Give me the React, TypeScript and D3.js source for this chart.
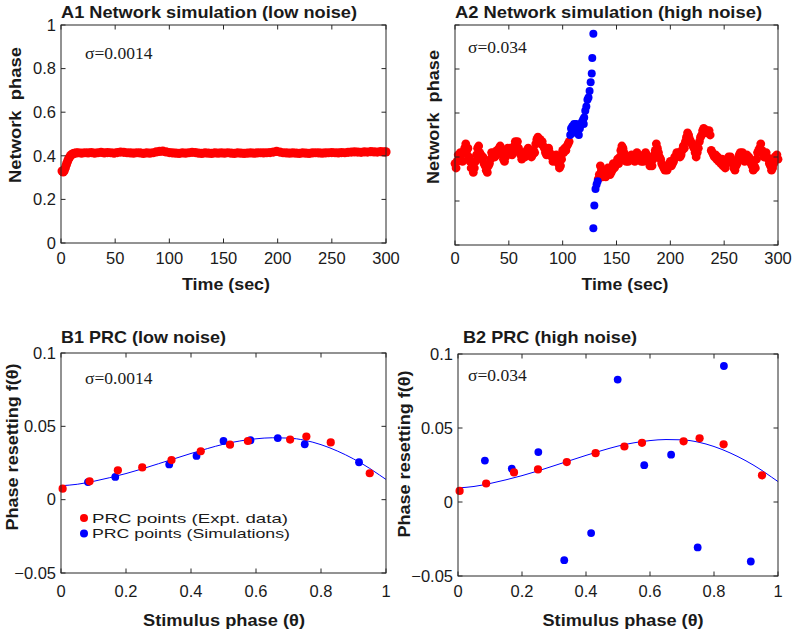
import React from "react";
import * as d3 from "d3";

// ---------------- DATA ----------------
// A1: network phase, low noise
const a1Time = [1,2,3,4,5,6,7,8,9,10,11,12,14,16,19,22,25,28,31,34,37,40,43,46,49,52,55,58,61,64,67,70,73,76,79,82,85,88,91,94,97,100,103,106,109,112,115,118,121,124,127,130,133,136,139,142,145,148,151,154,157,160,163,166,169,172,175,178,181,184,187,190,193,196,199,202,205,208,211,214,217,220,223,226,229,232,235,238,241,244,247,250,253,256,259,262,265,268,271,274,277,280,283,286,289,292,295,298,300];
const a1Phase = [0.330,0.326,0.332,0.345,0.360,0.374,0.386,0.395,0.401,0.406,0.409,0.411,0.413,0.414,0.412,0.414,0.413,0.415,0.412,0.414,0.416,0.413,0.415,0.414,0.412,0.415,0.417,0.416,0.414,0.413,0.412,0.414,0.413,0.411,0.413,0.412,0.414,0.418,0.420,0.421,0.418,0.415,0.413,0.412,0.411,0.413,0.412,0.414,0.416,0.415,0.412,0.411,0.413,0.412,0.411,0.413,0.412,0.413,0.412,0.414,0.412,0.411,0.413,0.412,0.411,0.412,0.413,0.412,0.413,0.414,0.413,0.414,0.415,0.417,0.420,0.417,0.414,0.413,0.412,0.413,0.412,0.411,0.413,0.412,0.411,0.413,0.414,0.413,0.412,0.413,0.414,0.415,0.414,0.413,0.415,0.414,0.416,0.417,0.418,0.417,0.416,0.418,0.417,0.419,0.418,0.417,0.419,0.418,0.418];

// A2: network phase, high noise. Red before the slip: one sample per second from t = 0.
const a2RedPreStart = 0;
const a2RedPre = [
  0.37,0.35,0.38,0.41,0.39,0.42, 0.41,0.38,0.42,0.44,0.46,0.43,
  0.44,0.40,0.38,0.35,0.37,0.33, 0.35,0.38,0.41,0.44,0.45,0.42,
  0.41,0.39,0.40,0.37,0.36,0.34, 0.33,0.36,0.37,0.39,0.42,0.41,
  0.42,0.40,0.41,0.43,0.42,0.44, 0.45,0.43,0.41,0.39,0.38,0.40,
  0.42,0.44,0.43,0.44,0.42,0.41, 0.43,0.45,0.47,0.46,0.47,0.44,
  0.42,0.41,0.39,0.41,0.42,0.40, 0.42,0.43,0.44,0.42,0.41,0.40,
  0.41,0.43,0.42,0.46,0.48,0.49, 0.47,0.48,0.46,0.47,0.45,0.44,
  0.42,0.41,0.43,0.44,0.42,0.41, 0.40,0.38,0.39,0.40,0.41,0.39,
  0.37,0.35,0.36,0.39,0.43,0.42, 0.44,0.43,0.45,0.46,0.47];
// Red after the slip: one sample per second from t = 133.
const a2RedPostStart = 133;
const a2RedPost = [
  0.30,0.32,0.36,0.34,0.31,0.32, 0.33,0.31,0.33,0.35,0.34,0.32,
  0.33,0.34,0.37,0.35,0.36,0.37, 0.39,0.37,0.40,0.43,0.45,0.44,
  0.42,0.40,0.38,0.39,0.38,0.40, 0.40,0.41,0.39,0.40,0.38,0.41,
  0.42,0.40,0.41,0.39,0.38,0.40, 0.38,0.40,0.42,0.41,0.40,0.38,
  0.36,0.37,0.36,0.39,0.41,0.43, 0.46,0.44,0.42,0.40,0.39,0.37,
  0.36,0.35,0.34,0.35,0.34,0.36, 0.37,0.38,0.36,0.37,0.38,0.40,
  0.40,0.42,0.41,0.42,0.40,0.41, 0.43,0.45,0.44,0.47,0.49,0.51,
  0.50,0.48,0.47,0.46,0.45,0.44, 0.42,0.40,0.42,0.44,0.47,0.49,
  0.50,0.52,0.53,0.51,0.52,0.52, 0.51,0.52,0.50,0.43,0.42,0.41,
  0.40,0.41,0.39,0.40,0.38,0.39, 0.37,0.39,0.36,0.37,0.35,0.37,
  0.38,0.40,0.39,0.40,0.38,0.37, 0.35,0.34,0.36,0.37,0.39,0.41,
  0.42,0.41,0.42,0.39,0.38,0.40, 0.41,0.39,0.40,0.38,0.37,0.36,
  0.34,0.36,0.35,0.39,0.42,0.43, 0.44,0.46,0.43,0.42,0.40,0.41,
  0.42,0.40,0.39,0.37,0.36,0.34, 0.35,0.37,0.40,0.39,0.41,0.39];
const a2BlueTime = [107,107.8,108.5,109,110,110.6,111,112,112.7,113,114,115,115.5,116,117,118,119,119.6,120,121,122,123,124,125,126,127,127.5,128.5, 128.5,129.4,130.5,131.5,132.5];
const a2BluePhase = [0.50,0.53,0.51,0.54,0.52,0.55,0.53,0.51,0.55,0.54,0.52,0.50,0.54,0.53,0.55,0.56,0.57,0.55,0.58,0.61,0.63,0.66,0.67,0.70,0.74,0.78,0.85,0.96, 0.076,0.18,0.255,0.275,0.29];

// B: phase resetting curves
const exptTheta = [0.005,0.088,0.175,0.25,0.34,0.43,0.52,0.575,0.705,0.755,0.83,0.95];
const exptPRC = [0.0075,0.0125,0.020,0.022,0.027,0.033,0.0375,0.040,0.041,0.043,0.039,0.018];
const simLowTheta = [0.083,0.167,0.333,0.417,0.5,0.583,0.667,0.75,0.917];
const simLowPRC = [0.012,0.0155,0.024,0.0298,0.040,0.0405,0.042,0.0378,0.0255];
const simHighTheta = [0.084,0.168,0.251,0.332,0.416,0.499,0.582,0.666,0.749,0.831,0.915];
const simHighPRC = [0.028,0.0226,0.0337,-0.0393,-0.021,0.0827,0.0249,0.032,-0.0307,0.0919,-0.0402];
const fitTheta = [0,0.05,0.1,0.15,0.2,0.25,0.3,0.35,0.4,0.45,0.5,0.55,0.6,0.65,0.7,0.75,0.8,0.85,0.9,0.95,0.98,1.0];
const fitPRC = [0.0095,0.0105,0.0125,0.015,0.0178,0.021,0.0245,0.028,0.0315,0.0348,0.0378,0.0400,0.0415,0.0422,0.0420,0.0405,0.0375,0.0332,0.0278,0.0213,0.0168,0.0138];

const timeTicks = [0,50,100,150,200,250,300];
const phaseTicks = [0,0.2,0.4,0.6,0.8,1];
const thetaTicks = [0,0.2,0.4,0.6,0.8,1];
const prcTicks = [-0.05,0,0.05,0.1];
const legendLabels = ["PRC points (Expt. data)", "PRC points (Simulations)"];

// ---------------- STYLE ----------------
const SANS = "'Liberation Sans', Arial, Helvetica, sans-serif";
const SERIF = "'Liberation Serif', 'Times New Roman', serif";
const AX = "#262626";
const TXT = "#1a1a1a";
const RED = "#ff0000";
const BLUE = "#0000ff";
const TL = 4.5;
const TICK_FS = 16.5;
const TITLE_FS = 17;
const LABEL_FS = 17;
const SIG_FS = 17.5;

const fmtNum = (v: number) => {
  const s = String(+v.toFixed(3));
  return v < 0 ? "\u2212" + s.slice(1) : s;
};

type AxesProps = {
  x: d3.ScaleLinear<number, number>;
  y: d3.ScaleLinear<number, number>;
  xTicks: number[];
  yTicks: number[];
  xLabelY: number;
  showY: boolean;
};

function Axes({ x, y, xTicks, yTicks, xLabelY, showY }: AxesProps) {
  const [x0, x1] = x.range();
  const [yb, yt] = y.range();
  return (
    <g>
      <rect x={x0} y={yt} width={x1 - x0} height={yb - yt} fill="none" stroke={AX} strokeWidth={1} />
      {xTicks.map((t) => (
        <g key={"x" + t}>
          <line x1={x(t)} x2={x(t)} y1={yb} y2={yb - TL} stroke={AX} />
          <line x1={x(t)} x2={x(t)} y1={yt} y2={yt + TL} stroke={AX} />
          <text x={x(t)} y={xLabelY} textAnchor="middle" dy="0.35em" fontFamily={SANS} fontSize={TICK_FS} fill={TXT}>
            {fmtNum(t)}
          </text>
        </g>
      ))}
      {yTicks.map((t) => (
        <g key={"y" + t}>
          <line x1={x0} x2={x0 + TL} y1={y(t)} y2={y(t)} stroke={AX} />
          <line x1={x1} x2={x1 - TL} y1={y(t)} y2={y(t)} stroke={AX} />
          {showY && (
            <text x={x0 - 5} y={y(t)} textAnchor="end" dy="0.35em" fontFamily={SANS} fontSize={TICK_FS} fill={TXT}>
              {fmtNum(t)}
            </text>
          )}
        </g>
      ))}
    </g>
  );
}

function Title({ x, y, text, len }: { x: number; y: number; text: string; len: number }) {
  return (
    <text x={x} y={y} dy="0.35em" fontFamily={SANS} fontWeight="bold" fontSize={TITLE_FS} fill={TXT}
      textLength={len} lengthAdjust="spacingAndGlyphs">
      {text}
    </text>
  );
}

function XLabel({ x, y, text, len }: { x: number; y: number; text: string; len: number }) {
  return (
    <text x={x} y={y} dy="0.35em" textAnchor="middle" fontFamily={SANS} fontWeight="bold" fontSize={LABEL_FS} fill={TXT}
      textLength={len} lengthAdjust="spacingAndGlyphs">
      {text}
    </text>
  );
}

function YLabel({ x, y, text, len }: { x: number; y: number; text: string; len: number }) {
  return (
    <text
      transform={`translate(${x},${y}) rotate(-90)`}
      dy="0.35em"
      textAnchor="middle"
      fontFamily={SANS}
      fontWeight="bold"
      fontSize={LABEL_FS}
      fill={TXT}
      style={{ whiteSpace: "pre" }}
      textLength={len}
      lengthAdjust="spacingAndGlyphs"
    >
      {text}
    </text>
  );
}

function Sigma({ x, y, text }: { x: number; y: number; text: string }) {
  return (
    <text x={x} y={y} dy="0.35em" fontFamily={SERIF} fontSize={SIG_FS} fill={TXT}>
      {text}
    </text>
  );
}

function Dots({ xs, ys, x, y, color, r }: { xs: number[]; ys: number[]; x: any; y: any; color: string; r: number }) {
  return (
    <g>
      {xs.map((v, i) => (
        <circle key={i} cx={x(v)} cy={y(ys[i])} r={r} fill={color} />
      ))}
    </g>
  );
}

export default function App() {
  // scales
  const xA1 = d3.scaleLinear().domain([0, 300]).range([61, 386]);
  const yA1 = d3.scaleLinear().domain([0, 1]).range([243, 25]);
  const xA2 = d3.scaleLinear().domain([0, 300]).range([455, 778]);
  const yA2 = d3.scaleLinear().domain([0, 1]).range([245, 25]);
  const xB1 = d3.scaleLinear().domain([0, 1]).range([61, 386]);
  const yB1 = d3.scaleLinear().domain([-0.05, 0.1]).range([573, 353]);
  const xB2 = d3.scaleLinear().domain([0, 1]).range([458, 778]);
  const yB2 = d3.scaleLinear().domain([-0.05, 0.1]).range([576, 354]);

  const a2RedTime = [
    ...a2RedPre.map((_, i) => a2RedPreStart + i),
    ...a2RedPost.map((_, i) => a2RedPostStart + i),
  ];
  const a2RedPhase = [...a2RedPre, ...a2RedPost];

  const fitPts: [number, number][] = fitTheta.map((t, i) => [t, fitPRC[i]]);
  const lineB1 = d3.line<[number, number]>().x((d) => xB1(d[0])).y((d) => yB1(d[1])).curve(d3.curveMonotoneX);
  const lineB2 = d3.line<[number, number]>().x((d) => xB2(d[0])).y((d) => yB2(d[1])).curve(d3.curveMonotoneX);

  const legendY = [518, 533.5];
  const legendColors = [RED, BLUE];
  const legendLens = [196, 198];

  return (
    <svg
      width={797}
      height={633}
      viewBox="0 0 797 633"
      style={{ position: "absolute", left: 0, top: 0, display: "block", background: "#fff" }}
    >
      <rect x={0} y={0} width={797} height={633} fill="#fff" />

      {/* A1 */}
      <Title x={61} y={12} text="A1 Network simulation (low noise)" len={296} />
      <Dots xs={a1Time} ys={a1Phase} x={xA1} y={yA1} color={RED} r={4.6} />
      <Axes x={xA1} y={yA1} xTicks={timeTicks} yTicks={phaseTicks} xLabelY={258} showY={true} />
      <Sigma x={85} y={53} text="σ=0.0014" />
      <XLabel x={226} y={284} text="Time (sec)" len={88} />
      <YLabel x={15} y={115} text="Network  phase" len={136} />

      {/* A2 */}
      <Title x={455} y={12} text="A2 Network simulation (high noise)" len={307} />
      <Dots xs={a2RedTime} ys={a2RedPhase} x={xA2} y={yA2} color={RED} r={4.4} />
      <Dots xs={a2BlueTime} ys={a2BluePhase} x={xA2} y={yA2} color={BLUE} r={4} />
      <Axes x={xA2} y={yA2} xTicks={timeTicks} yTicks={phaseTicks} xLabelY={258} showY={false} />
      <Sigma x={468} y={47} text="σ=0.034" />
      <XLabel x={625} y={284} text="Time (sec)" len={87} />
      <YLabel x={433} y={117} text="Network  phase" len={134} />

      {/* B1 */}
      <Title x={61} y={337} text="B1 PRC (low noise)" len={165} />
      <path d={lineB1(fitPts) || ""} fill="none" stroke={BLUE} strokeWidth={1} />
      <Dots xs={simLowTheta} ys={simLowPRC} x={xB1} y={yB1} color={BLUE} r={3.9} />
      <Dots xs={exptTheta} ys={exptPRC} x={xB1} y={yB1} color={RED} r={4.1} />
      <Axes x={xB1} y={yB1} xTicks={thetaTicks} yTicks={prcTicks} xLabelY={591} showY={true} />
      <Sigma x={85} y={378} text="σ=0.0014" />
      <XLabel x={224} y={620} text="Stimulus phase (θ)" len={162} />
      <YLabel x={12} y={447} text="Phase resetting f(θ)" len={167} />
      {/* legend */}
      {legendLabels.map((lab, i) => (
        <g key={lab}>
          <circle cx={84} cy={legendY[i]} r={4} fill={legendColors[i]} />
          <text x={92} y={legendY[i]} dy="0.36em" fontFamily={SANS} fontSize={13.5} fill={TXT}
            textLength={legendLens[i]} lengthAdjust="spacingAndGlyphs">
            {lab}
          </text>
        </g>
      ))}

      {/* B2 */}
      <Title x={463} y={337} text="B2 PRC (high noise)" len={174} />
      <path d={lineB2(fitPts) || ""} fill="none" stroke={BLUE} strokeWidth={1} />
      <Dots xs={simHighTheta} ys={simHighPRC} x={xB2} y={yB2} color={BLUE} r={3.9} />
      <Dots xs={exptTheta} ys={exptPRC} x={xB2} y={yB2} color={RED} r={4.1} />
      <Axes x={xB2} y={yB2} xTicks={thetaTicks} yTicks={prcTicks} xLabelY={591} showY={true} />
      <Sigma x={468} y={375} text="σ=0.034" />
      <XLabel x={623} y={620} text="Stimulus phase (θ)" len={161} />
      <YLabel x={404} y={454} text="Phase resetting f(θ)" len={167} />
    </svg>
  );
}
